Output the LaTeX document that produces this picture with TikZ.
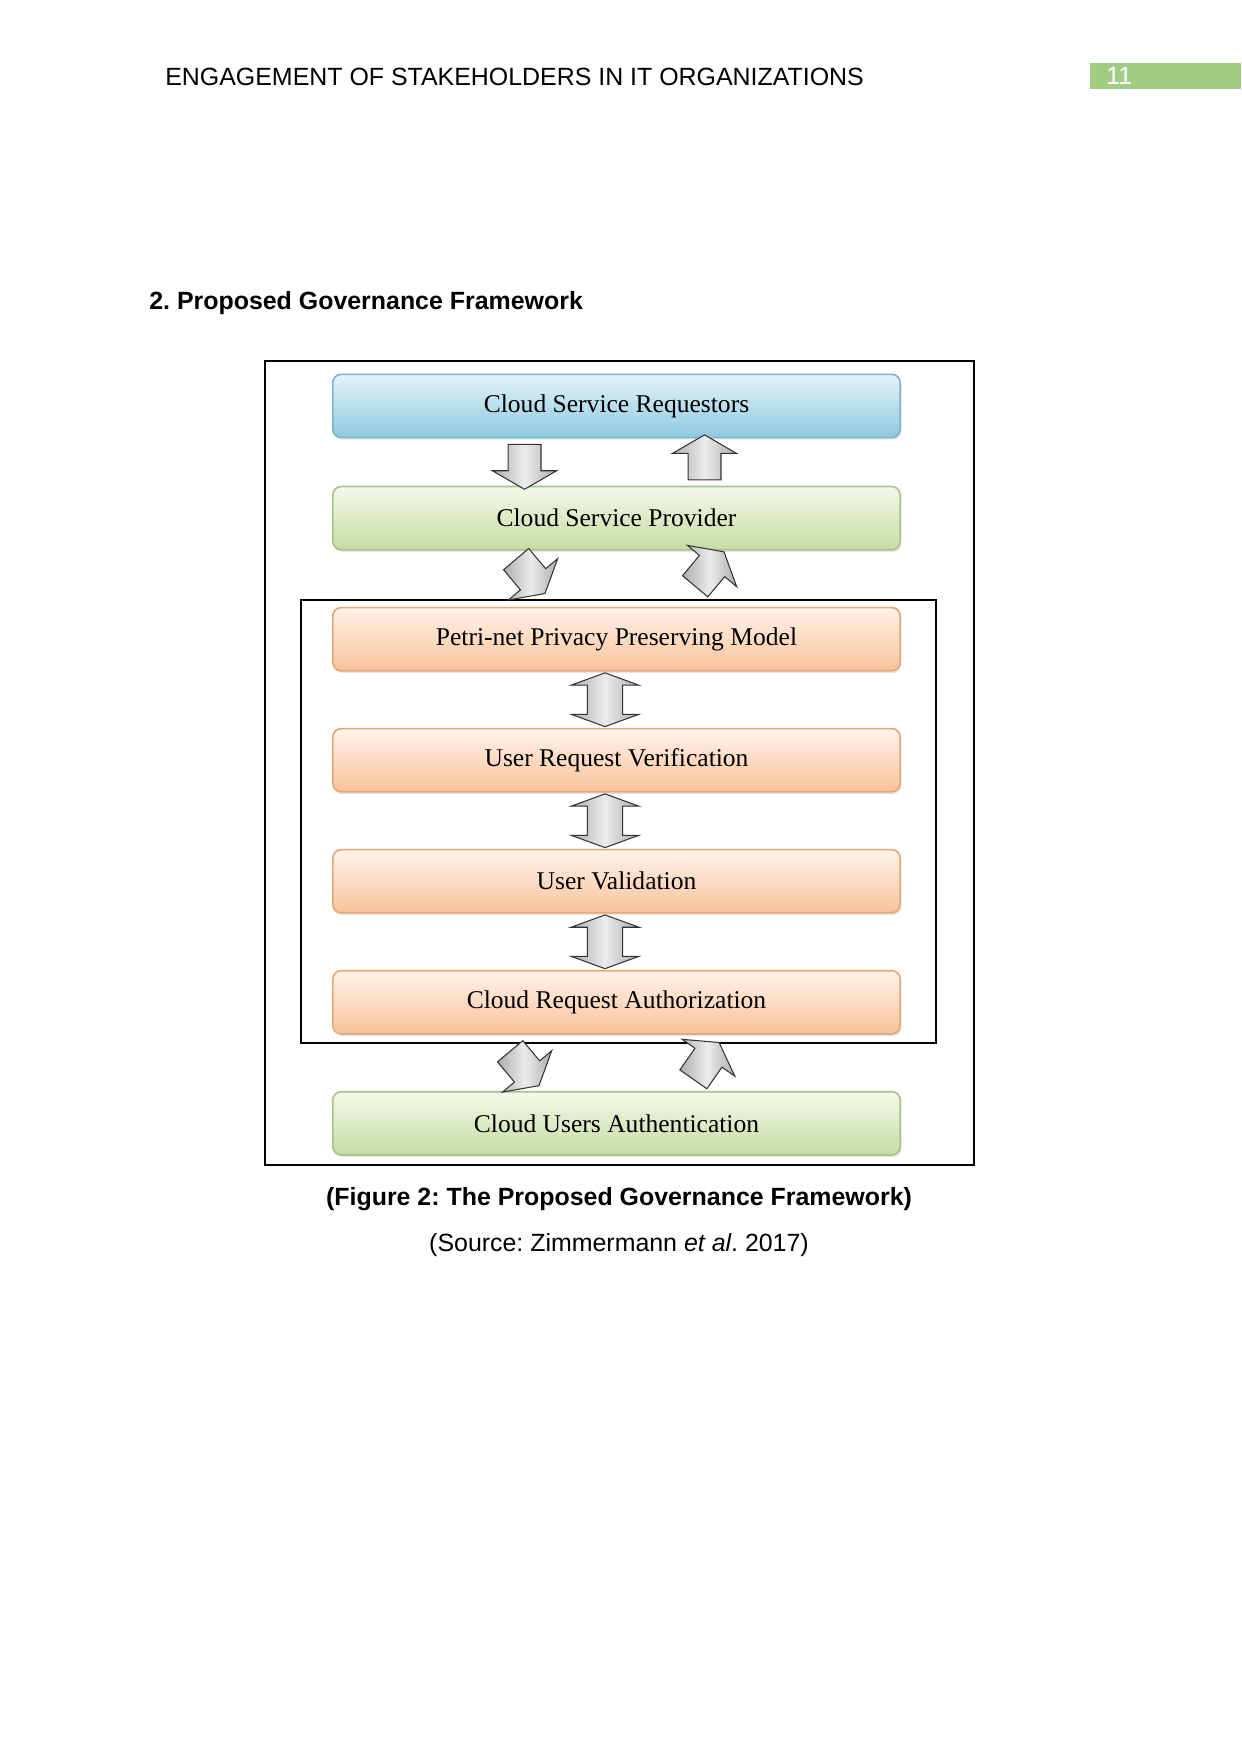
\documentclass[tikz,border=0pt]{standalone}
\usepackage{fontspec}
\setmainfont{Liberation Sans}
\newfontfamily\figfont{Liberation Serif}
\usepackage{xcolor}
\usepackage{tikz}
\usetikzlibrary{shapes.arrows, positioning, calc, shadows}
\frenchspacing

\definecolor{pagegreen}{HTML}{A3CB84}
\definecolor{reqtop}{HTML}{E4F4FA}
\definecolor{reqbot}{HTML}{8DC9DF}
\definecolor{reqline}{HTML}{7FB3CA}
\definecolor{provtop}{HTML}{F4F9EA}
\definecolor{provbot}{HTML}{C6DCA2}
\definecolor{provline}{HTML}{A9C38A}
\definecolor{modtop}{HTML}{FFF3EA}
\definecolor{modbot}{HTML}{F8C29A}
\definecolor{modline}{HTML}{E6A877}

\begin{document}
\begin{tikzpicture}[
    x=0.016922cm, y=-0.016922cm,
    node distance=0.95cm,
    layer/.style={rectangle, rounded corners=4pt, minimum width=9.6cm, minimum height=1.07cm, line width=0.8pt, font=\figfont\fontsize{12.3}{15}\selectfont, drop shadow={opacity=0.2, shadow xshift=0.6pt, shadow yshift=-1pt}},
    reqbox/.style={layer, draw=reqline, top color=reqtop, bottom color=reqbot},
    provbox/.style={layer, draw=provline, top color=provtop, bottom color=provbot},
    modbox/.style={layer, draw=modline, top color=modtop, bottom color=modbot},
    flow/.style={single arrow, draw=black!80, line width=0.5pt, inner xsep=0pt, inner ysep=0.27cm, minimum height=0.76cm, single arrow head extend=0.265cm, single arrow tip angle=120, left color=gray!65, right color=gray!65, middle color=gray!15},
    link/.style={double arrow, draw=black!80, line width=0.5pt, inner xsep=0pt, inner ysep=0.29cm, minimum height=0.91cm, double arrow head extend=0.275cm, double arrow tip angle=140, left color=gray!65, right color=gray!65, middle color=gray!15, rotate=90},
    frame/.style={draw=black, line width=1.2pt},
    pagetext/.style={font=\fontsize{12}{14}\selectfont}
]
\useasboundingbox (0,0) rectangle (1241,1754);

% page header and heading
\node[pagetext, anchor=base west] (running) at (158,86) {ENGAGEMENT OF STAKEHOLDERS IN IT ORGANIZATIONS};
\node[pagetext, anchor=north west, fill=pagegreen, text=white, minimum width=2.555cm, minimum height=0.43cm, inner xsep=0.27cm, inner ysep=0pt, text width=2.015cm, align=left] (pagenum) at (1090,63) {11};
\node[pagetext, font=\fontsize{12}{14}\selectfont\bfseries, anchor=base west] (heading) at (142,310) {2. Proposed Governance Framework};

% frames
\draw[frame] (265,361) rectangle (974,1165);
\draw[frame, line width=0.9pt] (301,600) rectangle (936,1043);

% layers
\node[reqbox] (csr) at (616.5,406) {Cloud Service Requestors};
\node[provbox, below=0.8cm of csr] (csp) {Cloud Service Provider};
\node[modbox, below=of csp] (petri) {Petri-net Privacy Preserving Model};
\node[modbox, below=of petri] (urv) {User Request Verification};
\node[modbox, below=of urv] (uv) {User Validation};
\node[modbox, below=of uv] (cra) {Cloud Request Authorization};
\node[provbox, below=of cra] (cua) {Cloud Users Authentication};

% block arrows
\node[flow, rotate=-90] (down1) at ($(csr.south)!0.5!(csp.north) + (-92,0)$) {};
\node[flow, rotate=90] (up1) at ($(csr.south)!0.5!(csp.north) + (88,0)$) {};
\node[flow, rotate=-50] (down2) at ($(csp.south)!0.5!(petri.north) + (-89,-6)$) {};
\node[flow, rotate=50] (up2) at ($(csp.south)!0.5!(petri.north) + (90,-6)$) {};
\node[link] (pair1) at ($(petri.south)!0.5!(urv.north) + (-11.5,0)$) {};
\node[link] (pair2) at ($(urv.south)!0.5!(uv.north) + (-11.5,0)$) {};
\node[link] (pair3) at ($(uv.south)!0.5!(cra.north) + (-11.5,0)$) {};
\node[flow, rotate=-50] (down3) at ($(cra.south)!0.5!(cua.north) + (-95,2)$) {};
\node[flow, rotate=55] (up3) at ($(cra.south)!0.5!(cua.north) + (87,2)$) {};

% caption
\node[pagetext, font=\fontsize{12}{14}\selectfont\bfseries, anchor=base] (caption) at (619,1205) {(Figure 2: The Proposed Governance Framework)};
\node[pagetext, anchor=base] (source) at (619,1251) {(Source: Zimmermann \textit{et al}. 2017)};
\end{tikzpicture}
\end{document}
